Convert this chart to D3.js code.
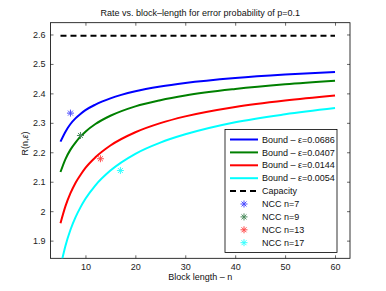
<!DOCTYPE html>
<html>
<head>
<meta charset="utf-8">
<script src="https://cdn.jsdelivr.net/npm/d3@7"></script>
<style>
html,body{margin:0;padding:0;background:#fff;}
svg{display:block;font-family:"Liberation Sans",Arial,Helvetica,sans-serif;}
</style>
</head>
<body>
<svg id="chart" width="386" height="291"></svg>
<script>
// ---- data ----
const nValues = [5,6,7,8,9,10,12,15,20,25,30,40,50,60];
const bound0686 = [2.236,2.270,2.296,2.315,2.330,2.343,2.362,2.383,2.407,2.423,2.435,2.452,2.464,2.473];
const bound0407 = [2.133,2.177,2.209,2.233,2.253,2.270,2.296,2.324,2.356,2.377,2.393,2.415,2.431,2.443];
const bound0144 = [1.959,2.017,2.061,2.096,2.123,2.147,2.183,2.223,2.268,2.299,2.322,2.354,2.376,2.393];
const bound0054 = [1.811,1.883,1.937,1.979,2.013,2.042,2.088,2.138,2.195,2.233,2.261,2.302,2.329,2.350];
const capacityN = [5,60];
const capacityValue = 2.596;
const nccN = [7,9,13,17];
const nccR = [2.333,2.257,2.178,2.138];
const boundLabels = ["Bound \u2013 \u03b5=0.0686","Bound \u2013 \u03b5=0.0407","Bound \u2013 \u03b5=0.0144","Bound \u2013 \u03b5=0.0054"];
const nccLabels = ["NCC n=7","NCC n=9","NCC n=13","NCC n=17"];
const xTicks = [10,20,30,40,50,60];
const yTicks = [1.9,2,2.1,2.2,2.3,2.4,2.5,2.6];
const boundColors = ["#0000ff","#008000","#ff0000","#00ffff"];
const nccColors = ["#4b4bff","#4a8a5c","#ff4b4b","#33ffff"];

const boundSeries = [bound0686,bound0407,bound0144,bound0054];

const svg = d3.select("#chart");
const L = 50.5, R = 350, T = 22.7, B = 258.3;
const x = d3.scaleLinear().domain([3,63]).range([L,R]);
const y = d3.scaleLinear().domain([1.84,2.64]).range([B,T]);

svg.append("defs").append("clipPath").attr("id","clip")
  .append("rect").attr("x",L).attr("y",T).attr("width",R-L).attr("height",B-T);

svg.append("rect").attr("x",L).attr("y",T).attr("width",R-L).attr("height",B-T)
  .attr("fill","#fff").attr("stroke","none");

const tickLen = 3;
const fontSize = 9;
const xAxisB = d3.axisBottom(x).tickValues(xTicks).tickSizeInner(-tickLen).tickSizeOuter(0).tickPadding(5).tickFormat(d3.format("d"));
const gxb = svg.append("g").attr("transform",`translate(0,${B})`).call(xAxisB);
const xAxisT = d3.axisTop(x).tickValues(xTicks).tickSizeInner(-tickLen).tickSizeOuter(0).tickFormat("");
const gxt = svg.append("g").attr("transform",`translate(0,${T})`).call(xAxisT);
const yAxisL = d3.axisLeft(y).tickValues(yTicks).tickSizeInner(-tickLen).tickSizeOuter(0).tickPadding(5).tickFormat(d => d3.format("")(d));
const gyl = svg.append("g").attr("transform",`translate(${L},0)`).call(yAxisL);
const yAxisR = d3.axisRight(y).tickValues(yTicks).tickSizeInner(-tickLen).tickSizeOuter(0).tickFormat("");
const gyr = svg.append("g").attr("transform",`translate(${R},0)`).call(yAxisR);
[gxb,gxt,gyl,gyr].forEach(g=>{
  g.select(".domain").remove();
  g.selectAll(".tick line").attr("stroke","#000").attr("stroke-width",0.6);
  g.selectAll(".tick text").attr("font-size",fontSize).attr("fill","#222").attr("font-family","'Liberation Sans',Arial,sans-serif");
});
svg.append("rect").attr("x",L).attr("y",T).attr("width",R-L).attr("height",B-T)
  .attr("fill","none").attr("stroke","#000").attr("stroke-width",0.8);

const plot = svg.append("g").attr("clip-path","url(#clip)");
const line = d3.line().x(d=>x(d[0])).y(d=>y(d[1])).curve(d3.curveMonotoneX);

boundSeries.forEach((s,i)=>{
  plot.append("path").datum(nValues.map((n,j)=>[n,s[j]]))
    .attr("d",line).attr("fill","none").attr("stroke",boundColors[i]).attr("stroke-width",2);
});
plot.append("path").datum(capacityN.map(n=>[n,capacityValue]))
  .attr("d",d3.line().x(d=>x(d[0])).y(d=>y(d[1])))
  .attr("fill","none").attr("stroke","#000").attr("stroke-width",2).attr("stroke-dasharray","6,4");

function star(g,cx,cy,r,color){
  const s = g.append("g").attr("stroke",color).attr("stroke-width",1).attr("fill","none");
  const d = r*0.707;
  s.append("line").attr("x1",cx-r).attr("x2",cx+r).attr("y1",cy).attr("y2",cy);
  s.append("line").attr("x1",cx).attr("x2",cx).attr("y1",cy-r).attr("y2",cy+r);
  s.append("line").attr("x1",cx-d).attr("x2",cx+d).attr("y1",cy-d).attr("y2",cy+d);
  s.append("line").attr("x1",cx-d).attr("x2",cx+d).attr("y1",cy+d).attr("y2",cy-d);
}
nccN.forEach((n,i)=>star(plot,x(n),y(nccR[i]),3.5,nccColors[i]));

// legend
const lg = svg.append("g");
const lgX = 225, lgY = 129.5, lgW = 112, lgH = 123;
lg.append("rect").attr("x",lgX).attr("y",lgY).attr("width",lgW).attr("height",lgH)
  .attr("fill","#fff").attr("stroke","#000").attr("stroke-width",0.8);
const rowY = i => 139.5 + i*12.9;
boundLabels.forEach((lab,i)=>{
  lg.append("line").attr("x1",230).attr("x2",258).attr("y1",rowY(i)).attr("y2",rowY(i))
    .attr("stroke",boundColors[i]).attr("stroke-width",2);
  lg.append("text").attr("x",262).attr("y",rowY(i)).attr("dy","0.35em").attr("font-size",fontSize).attr("fill","#111").text(lab);
});
lg.append("line").attr("x1",230).attr("x2",258).attr("y1",rowY(4)).attr("y2",rowY(4))
  .attr("stroke","#000").attr("stroke-width",2).attr("stroke-dasharray","6,4");
lg.append("text").attr("x",262).attr("y",rowY(4)).attr("dy","0.35em").attr("font-size",fontSize).attr("fill","#111").text("Capacity");
nccLabels.forEach((lab,i)=>{
  star(lg,244,rowY(5+i),3.5,nccColors[i]);
  lg.append("text").attr("x",262).attr("y",rowY(5+i)).attr("dy","0.35em").attr("font-size",fontSize).attr("fill","#111").text(lab);
});

// title and labels
svg.append("text").attr("x",(L+R)/2).attr("y",13).attr("dy","0.35em").attr("text-anchor","middle")
  .attr("font-size",fontSize).attr("fill","#111").text("Rate vs. block\u2013length for error probability of p=0.1");
svg.append("text").attr("x",(L+R)/2).attr("y",277).attr("dy","0.35em").attr("text-anchor","middle")
  .attr("font-size",fontSize).attr("fill","#111").text("Block length \u2013 n");
const yl = svg.append("text").attr("transform",`translate(25,${(T+B)/2 + 3})rotate(-90)`).attr("dy","0.35em")
  .attr("text-anchor","middle").attr("font-size",fontSize).attr("fill","#111");
yl.append("tspan").text("R(n,");
yl.append("tspan").attr("font-style","italic").text("\u03b5");
yl.append("tspan").text(")");
</script>
</body>
</html>
